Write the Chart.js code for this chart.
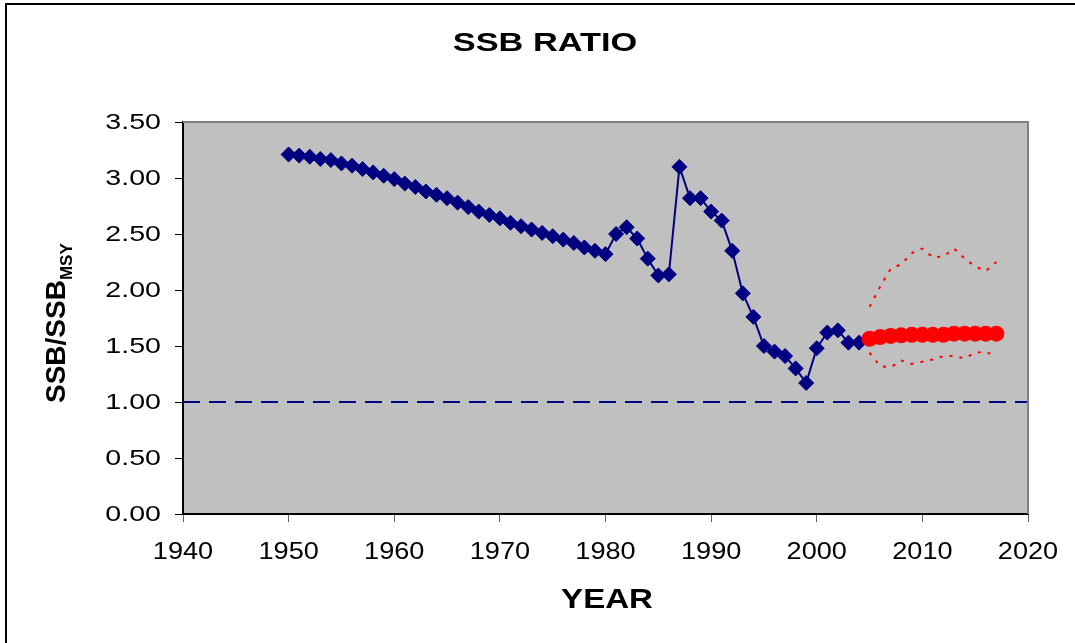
<!DOCTYPE html>
<html>
<head>
<meta charset="utf-8">
<script src="https://cdn.jsdelivr.net/npm/chart.js@4/dist/chart.umd.min.js"></script>
<style>
  body { margin: 0; background: #fff; }
  canvas { display: block; }
</style>
</head>
<body>
<canvas id="ssbChart" width="1075" height="643"></canvas>
<script>
// historic SSB/SSBmsy, 1950-2004
var histYears = [];
for (var y = 1950; y <= 2004; y++) histYears.push(y);
var histRatio = [
  3.21, 3.20, 3.19, 3.17, 3.16, 3.13, 3.11, 3.08, 3.05, 3.02,
  2.99, 2.95, 2.92, 2.88, 2.85, 2.82, 2.78, 2.74, 2.70, 2.67,
  2.64, 2.60, 2.57, 2.54, 2.51, 2.48, 2.45, 2.42, 2.38, 2.35,
  2.32, 2.50, 2.56, 2.46, 2.28, 2.13, 2.14, 3.10, 2.82, 2.82,
  2.70, 2.62, 2.35, 1.97, 1.76, 1.50, 1.45, 1.41, 1.30, 1.17,
  1.48, 1.62, 1.64, 1.53, 1.53
];

// projection 2005-2017 with upper / lower bounds
var projYears = [];
for (var p = 2005; p <= 2017; p++) projYears.push(p);
var projRatio = [1.565, 1.58, 1.59, 1.595, 1.60, 1.60, 1.60, 1.60, 1.61, 1.61, 1.61, 1.61, 1.61];
var projUpper = [1.85, 2.03, 2.19, 2.23, 2.33, 2.37, 2.29, 2.30, 2.37, 2.28, 2.21, 2.17, 2.25];
var projLower = [1.44, 1.32, 1.31, 1.37, 1.34, 1.36, 1.38, 1.41, 1.41, 1.39, 1.44, 1.45, 1.40];

// reference line at SSB = SSBmsy
var refYears = [1940, 2020];
var refRatio = [1, 1];

var yTickLabels = ["0.00", "0.50", "1.00", "1.50", "2.00", "2.50", "3.00", "3.50"];

function pts(xs, ys) {
  return xs.map(function (x, i) { return { x: x, y: ys[i] }; });
}

function wideText(ctx, text, x, y, font, sx, align) {
  ctx.save();
  ctx.font = font;
  ctx.translate(x, y);
  ctx.scale(sx, 1);
  ctx.textAlign = align;
  ctx.textBaseline = "middle";
  ctx.fillStyle = "#000";
  ctx.fillText(text, 0, 0);
  ctx.restore();
}

var FONT = '"Liberation Sans", Arial, sans-serif';

var excelLook = {
  id: "excelLook",
  beforeDraw: function (chart) {
    var ctx = chart.ctx, a = chart.chartArea;
    ctx.save();
    ctx.fillStyle = "#fff";
    ctx.fillRect(0, 0, chart.width, chart.height);
    ctx.fillStyle = "#C0C0C0";
    ctx.fillRect(a.left, a.top, a.right - a.left, a.bottom - a.top);
    ctx.restore();
  },
  afterDraw: function (chart) {
    var ctx = chart.ctx, a = chart.chartArea;
    var xs = chart.scales.x, ys = chart.scales.y;
    ctx.save();
    // plot frame top/right
    ctx.strokeStyle = "#808080";
    ctx.lineWidth = 2;
    ctx.beginPath();
    ctx.moveTo(a.left, a.top);
    ctx.lineTo(a.right, a.top);
    ctx.lineTo(a.right, a.bottom);
    ctx.stroke();
    // outer chart frame
    ctx.strokeStyle = "#000";
    ctx.lineWidth = 2;
    ctx.beginPath();
    ctx.moveTo(6, chart.height);
    ctx.lineTo(6, 4);
    ctx.lineTo(chart.width, 4);
    ctx.stroke();
    ctx.restore();

    // tick labels
    ys.ticks.forEach(function (t, i) {
      wideText(ctx, yTickLabels[i], 161, ys.getPixelForValue(t.value) + 1, "22px " + FONT, 1.3, "right");
    });
    xs.ticks.forEach(function (t) {
      wideText(ctx, String(t.value), xs.getPixelForValue(t.value), 552, "24px " + FONT, 1.13, "center");
    });

    // titles
    wideText(ctx, "SSB RATIO", 545, 44, "bold 26px " + FONT, 1.32, "center");
    wideText(ctx, "YEAR", 607, 600, "bold 28px " + FONT, 1.18, "center");

    ctx.save();
    ctx.translate(65, 403);
    ctx.rotate(-Math.PI / 2);
    ctx.fillStyle = "#000";
    ctx.textAlign = "left";
    ctx.textBaseline = "alphabetic";
    ctx.font = "bold 28px " + FONT;
    ctx.fillText("SSB/SSB", 0, 0);
    var w = ctx.measureText("SSB/SSB").width;
    ctx.font = "bold 17px " + FONT;
    ctx.fillText("MSY", w, 7);
    ctx.restore();
  }
};

new Chart(document.getElementById("ssbChart"), {
  type: "line",
  data: {
    datasets: [
      {
        label: "Projection",
        data: pts(projYears, projRatio),
        borderColor: "#FF0000",
        backgroundColor: "#FF0000",
        borderWidth: 2,
        pointRadius: 8,
        pointBorderWidth: 0,
        order: 0
      },
      {
        label: "SSB ratio",
        data: pts(histYears, histRatio),
        borderColor: "#000080",
        backgroundColor: "#000080",
        borderWidth: 2,
        pointStyle: "rectRot",
        pointRadius: 7.5,
        pointBorderWidth: 1,
        order: 1
      },
      {
        label: "Upper",
        data: pts(projYears, projUpper),
        borderColor: "#FF0000",
        borderWidth: 2,
        borderDash: [3, 7],
        pointRadius: 0,
        order: 2
      },
      {
        label: "Lower",
        data: pts(projYears, projLower),
        borderColor: "#FF0000",
        borderWidth: 2,
        borderDash: [3, 7],
        pointRadius: 0,
        order: 2
      },
      {
        label: "SSBmsy",
        data: pts(refYears, refRatio),
        borderColor: "#000080",
        borderWidth: 2,
        borderDash: [17, 9],
        pointRadius: 0,
        order: 3
      }
    ]
  },
  options: {
    responsive: false,
    animation: false,
    devicePixelRatio: 1,
    layout: { padding: { top: 122, right: 47, bottom: 0, left: 0 } },
    plugins: {
      legend: { display: false },
      tooltip: { enabled: false },
      title: { display: false }
    },
    scales: {
      x: {
        type: "linear",
        min: 1940,
        max: 2020,
        ticks: { stepSize: 10, display: false },
        grid: { drawOnChartArea: false, drawTicks: true, tickLength: 8, color: "#606060" },
        border: { color: "#000", width: 2 },
        afterFit: function (s) { s.height = 129; }
      },
      y: {
        min: 0,
        max: 3.5,
        ticks: { stepSize: 0.5, display: false },
        grid: { drawOnChartArea: false, drawTicks: true, tickLength: 8, color: "#000" },
        border: { color: "#000", width: 2 },
        afterFit: function (s) { s.width = 183; }
      }
    }
  },
  plugins: [excelLook]
});
</script>
</body>
</html>
